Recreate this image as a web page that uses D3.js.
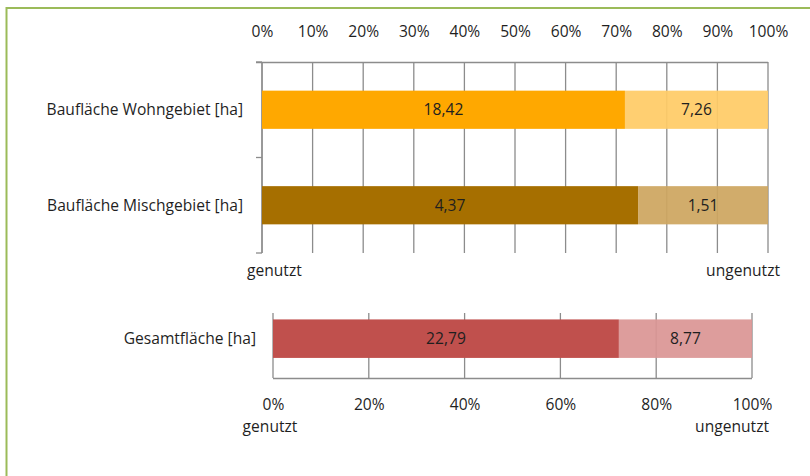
<!DOCTYPE html>
<html><head><meta charset="utf-8">
<script src="https://cdn.jsdelivr.net/npm/d3@7/dist/d3.min.js"></script>
<style>
html,body{margin:0;padding:0;background:#fff;}
svg{display:block;}
text{font-family:"Open Sans",sans-serif;fill:#1f1f1f;}
</style></head>
<body>
<script>
// ---- data ----
const categories = ["Baufläche Wohngebiet [ha]", "Baufläche Mischgebiet [ha]"];
const genutzt = [18.42, 4.37];
const ungenutzt = [7.26, 1.51];
const totalCategory = ["Gesamtfläche [ha]"];
const totalGenutzt = [22.79];
const totalUngenutzt = [8.77];
const topTicks = [0, 0.1, 0.2, 0.3, 0.4, 0.5, 0.6, 0.7, 0.8, 0.9, 1];
const bottomTicks = [0, 0.2, 0.4, 0.6, 0.8, 1];
const endLabels = ["genutzt", "ungenutzt"];

const colorsUsed = ["#FFA800", "#A66F00"];
const colorsFree = ["#FFCB66", "#CDA660"];
const totalColors = ["#C0504D", "#DA9694"];

const W = 810, H = 476, FS = 15.6;
const svg = d3.select("body").append("svg").attr("width", W).attr("height", H);

// frame
svg.append("rect").attr("x", 6.5).attr("y", 8).attr("width", 820).attr("height", 500)
  .attr("fill", "none").attr("stroke", "#9BBB59").attr("stroke-width", 2);

const fmt = v => d3.format(".2f")(v).replace(".", ",");
const pct = d3.format(".0%");
const gridColor = "#8c8c8c";

// ---------- top chart ----------
const x1 = d3.scaleLinear().domain([0, 1]).range([262, 768]);
const y1 = d3.scaleBand().domain(categories).range([62, 253]).paddingInner(0.6).paddingOuter(0.3);

const g1 = svg.append("g");
g1.selectAll("line.grid").data(topTicks).join("line")
  .attr("x1", d => x1(d)).attr("x2", d => x1(d))
  .attr("y1", 62).attr("y2", 253)
  .attr("stroke", gridColor).attr("stroke-width", 1.3);
const axTop = d3.axisTop(x1).tickValues(topTicks).tickFormat(pct).tickSize(0).tickPadding(0);
const gt = g1.append("g").attr("transform", "translate(0,62)").call(axTop);
gt.select(".domain").attr("stroke", gridColor).attr("stroke-width", 1.3).attr("d", "M256,0.5H768");
gt.selectAll("text").attr("y", -25).attr("font-size", FS).attr("font-family", "Open Sans").attr("fill", "#1f1f1f");
const yBounds = [62, (y1(categories[0]) + y1.bandwidth() + y1(categories[1])) / 2, 253];
g1.append("line").attr("x1", 262).attr("x2", 262).attr("y1", 62).attr("y2", 253)
  .attr("stroke", gridColor).attr("stroke-width", 1.3);
g1.selectAll("line.tk").data(yBounds).join("line")
  .attr("x1", 256).attr("x2", 262).attr("y1", d => d).attr("y2", d => d)
  .attr("stroke", gridColor).attr("stroke-width", 1.3);
const rows = categories.map((c, i) => ({c, i, u: genutzt[i], f: ungenutzt[i], t: genutzt[i] + ungenutzt[i]}));
rows.forEach(r => {
  const y = y1(r.c), h = y1.bandwidth();
  const s = r.u / r.t;
  g1.append("rect").attr("x", x1(0)).attr("y", y).attr("width", x1(s) - x1(0)).attr("height", h).attr("fill", colorsUsed[r.i]);
  g1.append("rect").attr("x", x1(s)).attr("y", y).attr("width", x1(1) - x1(s)).attr("height", h).attr("fill", colorsFree[r.i]).attr("fill-opacity", 0.93);
  g1.append("text").attr("x", (x1(0) + x1(s)) / 2).attr("y", y + h / 2).attr("dy", "0.36em")
    .attr("text-anchor", "middle").attr("font-size", FS).text(fmt(r.u));
  g1.append("text").attr("x", (x1(s) + x1(1)) / 2).attr("y", y + h / 2).attr("dy", "0.36em")
    .attr("text-anchor", "middle").attr("font-size", FS).text(fmt(r.f));
  g1.append("text").attr("x", 243).attr("y", y + h / 2).attr("dy", "0.36em")
    .attr("text-anchor", "end").attr("font-size", FS).text(r.c);
});
g1.append("text").attr("x", 247).attr("y", 276).attr("font-size", FS).text(endLabels[0]);
g1.append("text").attr("x", 780).attr("y", 276).attr("text-anchor", "end").attr("font-size", FS).text(endLabels[1]);

// ---------- bottom chart ----------
const x2 = d3.scaleLinear().domain([0, 1]).range([273, 752]);
const y2 = d3.scaleBand().domain(totalCategory).range([313, 378]).paddingInner(0).paddingOuter(0.1);
const g2 = svg.append("g");
g2.selectAll("line.grid").data(bottomTicks).join("line")
  .attr("x1", d => x2(d)).attr("x2", d => x2(d))
  .attr("y1", 313).attr("y2", 378)
  .attr("stroke", gridColor).attr("stroke-width", 1.3);
const axBot = d3.axisBottom(x2).tickValues(bottomTicks).tickFormat(pct).tickSize(0).tickPadding(0);
const gb = g2.append("g").attr("transform", "translate(0,378)").call(axBot);
gb.select(".domain").attr("stroke", gridColor).attr("stroke-width", 1.3).attr("d", "M273,0.5H752");
gb.selectAll("text").attr("y", 21).attr("font-size", FS).attr("font-family", "Open Sans").attr("fill", "#1f1f1f");
const tt = totalGenutzt[0] + totalUngenutzt[0];
const ts = totalGenutzt[0] / tt;
const by = y2(totalCategory[0]) + 1, bh = 38.5;
g2.append("rect").attr("x", x2(0)).attr("y", by).attr("width", x2(ts) - x2(0)).attr("height", bh).attr("fill", totalColors[0]);
g2.append("rect").attr("x", x2(ts)).attr("y", by).attr("width", x2(1) - x2(ts)).attr("height", bh).attr("fill", totalColors[1]).attr("fill-opacity", 0.93);
g2.append("text").attr("x", (x2(0) + x2(ts)) / 2).attr("y", by + bh / 2).attr("dy", "0.36em")
  .attr("text-anchor", "middle").attr("font-size", FS).text(fmt(totalGenutzt[0]));
g2.append("text").attr("x", (x2(ts) + x2(1)) / 2).attr("y", by + bh / 2).attr("dy", "0.36em")
  .attr("text-anchor", "middle").attr("font-size", FS).text(fmt(totalUngenutzt[0]));
g2.append("text").attr("x", 256).attr("y", by + bh / 2).attr("dy", "0.36em")
  .attr("text-anchor", "end").attr("font-size", FS).text(totalCategory[0]);
g2.append("text").attr("x", 270).attr("y", 432).attr("text-anchor", "middle").attr("font-size", FS).text(endLabels[0]);
g2.append("text").attr("x", 769).attr("y", 432).attr("text-anchor", "end").attr("font-size", FS).text(endLabels[1]);
</script>
</body></html>
